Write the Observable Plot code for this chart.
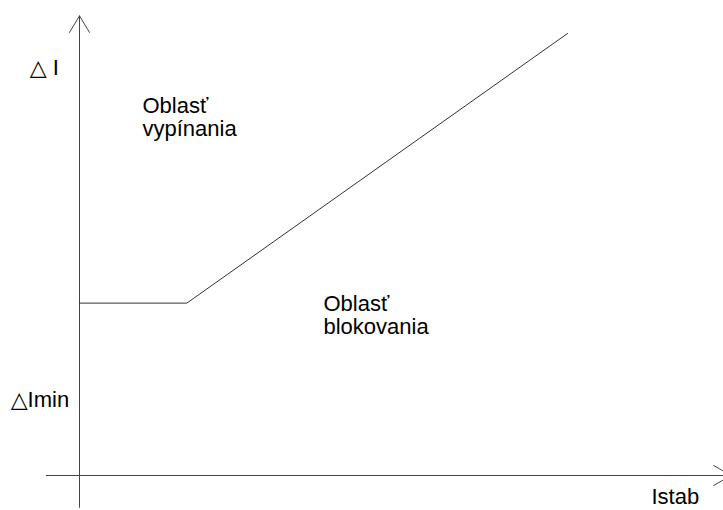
<!DOCTYPE html>
<html><head><meta charset="utf-8">
<script src="https://cdn.jsdelivr.net/npm/d3@7"></script>
<script src="https://cdn.jsdelivr.net/npm/@observablehq/plot@0.6"></script>
<style>body{margin:0;background:#fff}</style>
</head><body><div id="chart"></div>
<script>
// Characteristic curve: Istab (x) vs ΔI (y), chart units
const curveIstab = [0, 2.2, 10];
const curveDeltaI = [3.9, 3.9, 10];

// Axis extents (chart units)
const xAxisExtent = [-0.68, 13.35];
const yAxisExtent = [-0.72, 10.4];

// Annotation texts and their anchor points (chart units)
const labelTexts = ["△ I", "△Imin", "Oblasť\nvypínania", "Oblasť\nblokovania", "Istab"];
const labelIstab = [-1.02, -1.41, 1.29, 5.0, 11.72];
const labelDeltaI = [9.05, 1.54, 7.69, 3.21, -0.64];

const curve = curveIstab.map((x, i) => ({x, y: curveDeltaI[i]}));
const labels = labelTexts.map((t, i) => ({t, x: labelIstab[i], y: labelDeltaI[i]}));

const chart = Plot.plot({
  width: 723,
  height: 510,
  margin: 0,
  style: {background: "#fff", fontFamily: "'Liberation Sans', Arial, 'DejaVu Sans', sans-serif"},
  x: {domain: [0, 10], range: [79, 567], axis: null},
  y: {domain: [0, 10], range: [475, 33], axis: null},
  marks: [
    Plot.arrow([{x1: xAxisExtent[0], x2: xAxisExtent[1], y1: 0, y2: 0}],
      {x1: "x1", x2: "x2", y1: "y1", y2: "y2", stroke: "#444", strokeWidth: 1, headLength: 30, headAngle: 60}),
    Plot.arrow([{x1: 0, x2: 0, y1: yAxisExtent[0], y2: yAxisExtent[1]}],
      {x1: "x1", x2: "x2", y1: "y1", y2: "y2", stroke: "#444", strokeWidth: 1, headLength: 29, headAngle: 62}),
    Plot.line(curve, {x: "x", y: "y", stroke: "#333", strokeWidth: 1}),
    Plot.text(labels, {x: "x", y: "y", text: "t", textAnchor: "start", lineAnchor: "bottom",
      fontSize: 22, lineHeight: 1.05, fill: "#000"})
  ]
});
document.getElementById("chart").append(chart);
</script>
</body></html>
